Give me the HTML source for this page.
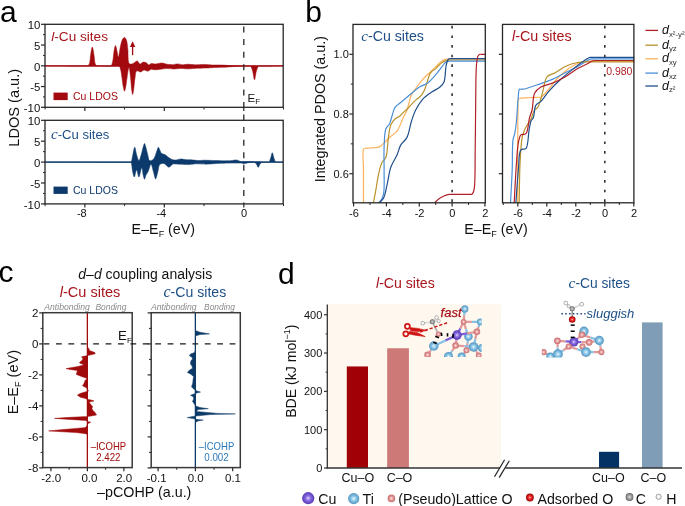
<!DOCTYPE html><html><head><meta charset="utf-8"><style>html,body{margin:0;padding:0;background:#fff;width:685px;height:506px;overflow:hidden}svg{display:block;will-change:transform}text{font-family:"Liberation Sans",sans-serif}</style></head><body>
<svg width="685" height="506" viewBox="0 0 685 506">
<defs><radialGradient id="gTi" cx="50%" cy="50%" r="50%"><stop offset="0" stop-color="#f4fbff"/><stop offset="0.22" stop-color="#b6def2"/><stop offset="0.55" stop-color="#7dbde2"/><stop offset="1" stop-color="#5894bd"/></radialGradient><radialGradient id="gO" cx="50%" cy="50%" r="50%"><stop offset="0" stop-color="#fff4f4"/><stop offset="0.22" stop-color="#f2c0c0"/><stop offset="0.55" stop-color="#e29090"/><stop offset="1" stop-color="#c47070"/></radialGradient><radialGradient id="gCu" cx="50%" cy="50%" r="50%"><stop offset="0" stop-color="#f6f2ff"/><stop offset="0.22" stop-color="#a892ec"/><stop offset="0.55" stop-color="#7a5cd6"/><stop offset="1" stop-color="#5a3eb4"/></radialGradient><radialGradient id="gR" cx="50%" cy="50%" r="50%"><stop offset="0" stop-color="#ffd0d0"/><stop offset="0.3" stop-color="#f04040"/><stop offset="0.7" stop-color="#d01010"/><stop offset="1" stop-color="#900808"/></radialGradient><radialGradient id="gC" cx="50%" cy="50%" r="50%"><stop offset="0" stop-color="#e8e8e8"/><stop offset="0.35" stop-color="#b0b0b0"/><stop offset="0.75" stop-color="#8a8a8a"/><stop offset="1" stop-color="#5a5a5a"/></radialGradient><radialGradient id="gH" cx="50%" cy="50%" r="50%"><stop offset="0" stop-color="#ffffff"/><stop offset="0.6" stop-color="#f2f2f2"/><stop offset="1" stop-color="#b0b0b0"/></radialGradient><clipPath id="clipS1"><rect x="400" y="300" width="81.7" height="57"/></clipPath><clipPath id="clipS2"><rect x="541.8" y="298" width="63" height="59.6"/></clipPath><clipPath id="clipB1"><rect x="353" y="24.4" width="132.3" height="178.4"/></clipPath><clipPath id="clipB2"><rect x="502.5" y="24.4" width="131.8" height="178.4"/></clipPath></defs>
<text x="0" y="21.8" font-size="30" fill="#000" text-anchor="start"  >a</text>
<text x="305.3" y="21.8" font-size="30" fill="#000" text-anchor="start"  >b</text>
<text x="-1.5" y="282.2" font-size="30" fill="#000" text-anchor="start"  >c</text>
<text x="278" y="284.4" font-size="30" fill="#000" text-anchor="start"  >d</text>
<path d="M45,65.9 C45,65.9 45.42,65.9 46,65.9 C49.68,65.9 83.12,65.9 86.8,65.9 C87.38,65.9 87.47,66.06 87.8,65.9 C88.31,65.65 88.9,64.93 89.3,64 C90.03,62.31 90.12,58.53 90.5,56 C90.85,53.72 91.11,51.13 91.5,49.5 C91.74,48.49 92.03,47.1 92.3,47.1 C92.57,47.1 92.86,48.49 93.1,49.5 C93.49,51.13 93.75,53.72 94.1,56 C94.48,58.53 94.57,62.31 95.3,64 C95.7,64.93 96.29,65.65 96.8,65.9 C97.13,66.06 97.28,65.9 97.8,65.9 C99.61,65.9 108.19,65.9 110,65.9 C110.52,65.9 110.69,66.11 111,65.9 C111.63,65.47 112.15,63.69 112.6,62 C113.37,59.13 113.56,53 114.2,50 C114.59,48.15 115.06,45.6 115.5,45.6 C115.96,45.6 116.45,48.75 116.9,50.5 C117.42,52.49 117.89,56.91 118.4,56.9 C119.05,56.89 119.64,49.63 120.4,46.5 C121.04,43.86 121.55,40.86 122.5,39.3 C123.08,38.36 123.87,37.34 124.5,37.4 C125.18,37.46 125.9,38.79 126.4,40 C127.24,42.03 127.38,45.64 127.8,49 C128.34,53.25 127.61,61.77 129.2,63.5 C129.89,64.25 131.03,64.15 131.9,64 C132.8,63.84 133.62,63.01 134.5,62.5 C135.42,61.97 136.44,60.75 137.3,60.9 C138.26,61.07 138.91,63.83 139.9,64 C140.83,64.16 141.94,62.41 143,62.2 C143.98,62.01 145.08,62.19 146,62.6 C146.99,63.04 147.77,64.8 148.7,64.9 C149.54,64.99 150.62,63.63 151.3,63.5 C151.69,63.42 151.89,63.57 152.29,63.61 C152.92,63.68 154.08,63.82 154.71,63.89 C155.11,63.93 155.23,64.01 155.7,64 C156.87,63.97 159.86,62.92 161.8,63 C163.61,63.07 165.94,64.13 167,64.3 C167.46,64.37 167.57,64.34 168,64.38 C168.78,64.43 170.52,64.57 171.3,64.62 C171.73,64.66 171.84,64.72 172.3,64.7 C173.37,64.66 175.84,63.88 177.6,63.9 C179.34,63.92 181.74,64.77 182.8,64.8 C183.26,64.81 183.37,64.74 183.79,64.69 C184.58,64.6 186.32,64.4 187.11,64.31 C187.53,64.26 187.77,64.2 188.1,64.2 C188.43,64.2 188.64,64.25 189.1,64.29 C190.13,64.37 193.07,64.63 194.1,64.71 C194.56,64.75 194.77,64.79 195.1,64.8 C195.43,64.81 195.62,64.78 196.1,64.75 C197.34,64.7 201.56,64.5 202.8,64.45 C203.28,64.42 203.47,64.4 203.8,64.4 C204.13,64.4 204.32,64.44 204.8,64.47 C206.05,64.55 210.35,64.85 211.6,64.93 C212.08,64.96 212.27,64.99 212.6,65 C212.93,65.01 213.12,65 213.6,65 C214.86,65 219.14,65 220.4,65 C220.88,65 221.07,64.99 221.4,65 C221.73,65.01 221.92,65.04 222.4,65.07 C223.64,65.15 227.86,65.45 229.1,65.53 C229.58,65.56 229.77,65.59 230.1,65.6 C230.43,65.61 230.58,65.61 231.1,65.62 C232.97,65.66 242.13,65.84 244,65.88 C244.52,65.89 244.67,65.9 245,65.9 C245.33,65.9 245.43,65.9 246,65.9 C249.43,65.9 278.57,65.9 282,65.9 C282.57,65.9 283,65.9 283,65.9 L283,65.9 C283,65.9 282.55,65.91 282,65.91 C279.38,65.94 262.02,66.16 259.4,66.19 C258.85,66.19 258.72,65.98 258.4,66.2 C257.67,66.69 256.99,69.13 256.4,71 C255.63,73.46 255.13,79.8 254.5,79.8 C253.87,79.8 253.37,73.46 252.6,71 C252.01,69.13 251.33,66.68 250.6,66.2 C250.28,65.99 250.04,66.21 249.6,66.22 C248.77,66.23 246.83,66.27 246,66.28 C245.56,66.29 245.33,66.29 245,66.3 C244.67,66.31 244.5,66.31 244,66.33 C242.46,66.37 236.14,66.53 234.6,66.57 C234.1,66.59 233.93,66.58 233.6,66.6 C233.27,66.62 233.08,66.64 232.6,66.67 C231.36,66.75 227.14,67.05 225.9,67.13 C225.42,67.16 225.23,67.18 224.9,67.2 C224.57,67.22 224.38,67.22 223.9,67.23 C222.64,67.28 218.36,67.42 217.1,67.47 C216.62,67.48 216.43,67.48 216.1,67.5 C215.77,67.52 215.58,67.53 215.1,67.56 C213.85,67.63 209.55,67.87 208.3,67.94 C207.82,67.97 207.63,67.99 207.3,68 C206.97,68.01 206.78,68.01 206.3,68.02 C205.06,68.05 200.84,68.15 199.6,68.18 C199.12,68.19 198.93,68.19 198.6,68.2 C198.27,68.21 198.1,68.23 197.6,68.27 C196.14,68.36 190.46,68.74 189,68.83 C188.5,68.87 188.33,68.9 188,68.9 C187.67,68.9 187.46,68.86 187,68.83 C185.97,68.76 183.03,68.54 182,68.47 C181.54,68.44 181.33,68.4 181,68.4 C180.67,68.4 180.46,68.45 180,68.49 C178.97,68.57 176.03,68.83 175,68.91 C174.54,68.95 174.33,69 174,69 C173.67,69 173.46,68.96 173,68.93 C171.97,68.86 169.03,68.64 168,68.57 C167.54,68.54 167.33,68.49 167,68.5 C166.67,68.51 166.46,68.56 166.01,68.61 C164.98,68.73 162.02,69.07 160.99,69.19 C160.54,69.24 160.33,69.26 160,69.3 C159.67,69.34 159.41,69.37 159.01,69.42 C158.4,69.49 157.3,69.61 156.69,69.68 C156.29,69.73 156.03,69.8 155.7,69.8 C155.37,69.8 155.11,69.73 154.71,69.69 C154.08,69.62 152.92,69.48 152.29,69.41 C151.89,69.37 151.72,69.22 151.3,69.3 C150.47,69.46 148.99,71.08 147.8,71.2 C146.66,71.31 145.45,70 144.3,70.1 C143.11,70.2 142.05,71.73 140.8,71.9 C139.49,72.07 137.57,70.38 136.6,71 C135.35,71.8 135.46,75.34 135,78 C134.41,81.45 134.11,86.97 133.6,90 C133.28,91.87 132.92,94.5 132.6,94.5 C132.28,94.5 131.97,91.87 131.7,90 C131.26,86.97 131.07,81.85 130.6,78 C130.16,74.4 129.54,67.65 129,67.6 C128.74,67.58 128.45,68.95 128.2,70 C127.75,71.87 127.4,75.25 127,78 C126.57,80.91 126.22,84.58 125.7,87 C125.34,88.68 124.9,91.2 124.5,91.2 C124.1,91.2 123.66,88.68 123.3,87 C122.78,84.58 122.45,80.91 122,78 C121.58,75.25 121.27,72.14 120.7,70 C120.3,68.51 119.9,66.72 119.3,66.3 C119,66.09 118.9,66.3 118.3,66.29 C113.23,66.27 51.07,65.93 46,65.91 C45.4,65.9 45,65.9 45,65.9Z" fill="#a20a0f" stroke="#a20a0f" stroke-width="0.5"/>
<line x1="45" y1="65.9" x2="283.2" y2="65.9" stroke="#a20a0f" stroke-width="1.4" />
<line x1="132.6" y1="55.2" x2="132.6" y2="45" stroke="#a20a0f" stroke-width="1.3" />
<path d="M132.6,41.2 L129.9,47 L135.3,47 Z" fill="#a20a0f"/>
<path d="M45,162.1 C45,162.1 45.4,162.1 46,162.1 C51.51,162.1 124.49,162.1 130,162.1 C130.6,162.1 130.7,162.34 131,162.1 C131.82,161.46 132.2,157.42 132.8,155 C133.43,152.46 134.05,147.2 134.7,147.2 C135.35,147.2 135.94,152.64 136.7,155 C137.36,157.04 138.15,160.6 138.9,160.6 C139.71,160.6 140.69,156.25 141.4,154 C142.12,151.72 142.6,148.92 143.2,147 C143.63,145.62 144.07,143.5 144.5,143.5 C144.93,143.5 145.36,145.58 145.8,147 C146.45,149.11 147.11,152.58 147.8,155 C148.38,157.04 148.49,160.09 149.6,160.6 C150.56,161.04 152.52,159.98 153.6,158.9 C155.01,157.48 155.64,154.08 156.5,152 C157.21,150.29 157.77,147.33 158.4,147.3 C158.93,147.28 159.45,149.45 160,150.5 C160.55,151.55 160.87,152.92 161.7,153.6 C162.51,154.27 163.91,154.08 164.9,154.6 C165.92,155.14 166.69,156.06 167.7,156.8 C168.83,157.63 170.12,158.75 171.4,159.3 C172.56,159.8 173.66,160.09 175,160.1 C176.7,160.11 179.67,158.93 180.8,158.9 C181.26,158.89 181.36,158.99 181.79,159.05 C182.55,159.17 184.25,159.43 185.01,159.55 C185.44,159.61 185.67,159.67 186,159.7 C186.33,159.73 186.55,159.72 187,159.73 C187.97,159.76 190.63,159.84 191.6,159.87 C192.05,159.88 192.27,159.87 192.6,159.9 C192.93,159.93 193.16,159.97 193.59,160.03 C194.39,160.13 196.21,160.37 197.01,160.47 C197.44,160.53 197.67,160.59 198,160.6 C198.33,160.61 198.55,160.57 199,160.54 C199.94,160.48 202.46,160.32 203.4,160.26 C203.85,160.23 204.07,160.2 204.4,160.2 C204.73,160.2 204.91,160.22 205.4,160.23 C206.7,160.28 211.3,160.42 212.6,160.47 C213.09,160.48 213.27,160.49 213.6,160.5 C213.93,160.51 214.1,160.51 214.6,160.53 C216.05,160.57 221.65,160.73 223.1,160.77 C223.6,160.79 223.77,160.8 224.1,160.8 C224.43,160.8 224.63,160.79 225.1,160.77 C226.25,160.75 229.85,160.65 231,160.63 C231.47,160.61 231.56,160.64 232,160.6 C232.89,160.51 234.59,159.8 236,159.9 C237.63,160.02 240.13,161.43 241.2,161.6 C241.66,161.67 241.68,161.6 242.2,161.61 C243.97,161.62 252.23,161.68 254,161.69 C254.52,161.7 254.67,161.69 255,161.7 C255.33,161.71 255.48,161.71 256,161.73 C257.79,161.78 266.21,162.02 268,162.07 C268.52,162.09 268.69,162.31 269,162.1 C269.7,161.64 270.25,159.06 270.8,157.5 C271.35,155.93 271.8,152.7 272.3,152.7 C272.8,152.7 273.25,155.93 273.8,157.5 C274.35,159.06 274.9,161.62 275.6,162.1 C275.91,162.31 276.13,162.1 276.6,162.1 C277.68,162.1 280.92,162.1 282,162.1 C282.47,162.1 283,162.1 283,162.1 L283,162.1 C283,162.1 282.54,162.1 282,162.11 C279.64,162.13 265.36,162.27 263,162.29 C262.46,162.3 262.36,162.16 262,162.3 C261.41,162.52 260.59,163.27 260,164 C259.29,164.89 258.8,167.4 258.2,167.4 C257.6,167.4 257.1,164.89 256.4,164 C255.83,163.27 255.07,162.51 254.5,162.3 C254.14,162.17 253.93,162.32 253.5,162.34 C252.7,162.37 250.9,162.43 250.1,162.46 C249.67,162.48 249.56,162.44 249.1,162.5 C248.03,162.64 245.26,163.7 243.8,163.7 C242.78,163.7 241.87,163.18 241.2,163.1 C240.79,163.05 240.7,163.1 240.2,163.1 C238.75,163.1 233.15,163.1 231.7,163.1 C231.2,163.1 231.03,163.1 230.7,163.1 C230.37,163.1 230.21,163.11 229.7,163.12 C227.99,163.16 220.31,163.34 218.6,163.38 C218.09,163.39 217.93,163.38 217.6,163.4 C217.27,163.42 217.1,163.44 216.6,163.48 C215.15,163.59 209.45,164.01 208,164.12 C207.5,164.16 207.33,164.19 207,164.2 C206.67,164.21 206.51,164.18 206,164.17 C204.42,164.11 197.78,163.89 196.2,163.83 C195.69,163.82 195.53,163.79 195.2,163.8 C194.87,163.81 194.67,163.86 194.21,163.91 C193.15,164.03 190.05,164.37 188.99,164.49 C188.53,164.54 188.33,164.59 188,164.6 C187.67,164.61 187.46,164.57 187,164.54 C185.94,164.49 182.86,164.31 181.8,164.26 C181.34,164.23 181.13,164.22 180.8,164.2 C180.47,164.18 180.27,164.18 179.8,164.16 C178.65,164.12 175.05,163.98 173.9,163.94 C173.43,163.92 173.31,163.76 172.9,163.9 C171.95,164.21 170.23,167.18 168.8,167.2 C167.27,167.23 165.63,163.94 164,163.6 C162.62,163.31 160.81,163.62 159.8,164.6 C158.45,165.91 158.51,169.58 157.8,172 C157.11,174.35 156.32,178.9 155.6,178.9 C154.88,178.9 154.24,174.37 153.5,172 C152.71,169.48 151.9,164.23 151,164.2 C150.13,164.17 149.17,169.45 148.2,171.4 C147.49,172.84 146.61,173.71 146,175 C145.37,176.34 144.97,179.31 144.5,179.3 C144.04,179.29 143.61,176.63 143.2,175 C142.67,172.9 142.35,167.73 141.7,167.7 C140.96,167.67 139.8,176.99 138.9,177 C138.11,177.01 137.37,170 136.6,170 C135.83,170 134.99,177 134.3,177 C133.71,177 133.18,173.96 132.7,172 C132.04,169.32 131.93,163.08 131,162.3 C130.7,162.05 130.6,162.3 130,162.3 C124.49,162.28 51.51,162.12 46,162.1 C45.4,162.1 45,162.1 45,162.1Z" fill="#0d3a6c" stroke="#0d3a6c" stroke-width="0.5"/>
<line x1="45" y1="162.1" x2="283.2" y2="162.1" stroke="#0d3a6c" stroke-width="1.4" />
<rect x="45" y="24.3" width="238.2" height="83" fill="none" stroke="#262626" stroke-width="1.3"/>
<line x1="41" y1="107.3" x2="45" y2="107.3" stroke="#262626" stroke-width="1.2" />
<text x="40.3" y="112" font-size="11.4" fill="#111" text-anchor="end"  >-10</text>
<line x1="41" y1="86.55" x2="45" y2="86.55" stroke="#262626" stroke-width="1.2" />
<text x="40.3" y="91.25" font-size="11.4" fill="#111" text-anchor="end"  >-5</text>
<line x1="41" y1="65.8" x2="45" y2="65.8" stroke="#262626" stroke-width="1.2" />
<text x="40.3" y="70.5" font-size="11.4" fill="#111" text-anchor="end"  >0</text>
<line x1="41" y1="45.05" x2="45" y2="45.05" stroke="#262626" stroke-width="1.2" />
<text x="40.3" y="49.75" font-size="11.4" fill="#111" text-anchor="end"  >5</text>
<line x1="41" y1="24.3" x2="45" y2="24.3" stroke="#262626" stroke-width="1.2" />
<text x="40.3" y="29" font-size="11.4" fill="#111" text-anchor="end"  >10</text>
<line x1="43" y1="96.92" x2="45" y2="96.92" stroke="#262626" stroke-width="1.0" />
<line x1="43" y1="76.17" x2="45" y2="76.17" stroke="#262626" stroke-width="1.0" />
<line x1="43" y1="55.42" x2="45" y2="55.42" stroke="#262626" stroke-width="1.0" />
<line x1="43" y1="34.67" x2="45" y2="34.67" stroke="#262626" stroke-width="1.0" />
<line x1="84.84" y1="107.3" x2="84.84" y2="110.9" stroke="#262626" stroke-width="1.2" />
<line x1="164.32" y1="107.3" x2="164.32" y2="110.9" stroke="#262626" stroke-width="1.2" />
<line x1="243.8" y1="107.3" x2="243.8" y2="110.9" stroke="#262626" stroke-width="1.2" />
<line x1="45.1" y1="107.3" x2="45.1" y2="109.5" stroke="#262626" stroke-width="1.0" />
<line x1="124.58" y1="107.3" x2="124.58" y2="109.5" stroke="#262626" stroke-width="1.0" />
<line x1="204.06" y1="107.3" x2="204.06" y2="109.5" stroke="#262626" stroke-width="1.0" />
<line x1="283.54" y1="107.3" x2="283.54" y2="109.5" stroke="#262626" stroke-width="1.0" />
<rect x="45" y="120.3" width="238.2" height="83.6" fill="none" stroke="#262626" stroke-width="1.3"/>
<line x1="41" y1="203.9" x2="45" y2="203.9" stroke="#262626" stroke-width="1.2" />
<text x="40.3" y="208.6" font-size="11.4" fill="#111" text-anchor="end"  >-10</text>
<line x1="41" y1="183" x2="45" y2="183" stroke="#262626" stroke-width="1.2" />
<text x="40.3" y="187.7" font-size="11.4" fill="#111" text-anchor="end"  >-5</text>
<line x1="41" y1="162.1" x2="45" y2="162.1" stroke="#262626" stroke-width="1.2" />
<text x="40.3" y="166.8" font-size="11.4" fill="#111" text-anchor="end"  >0</text>
<line x1="41" y1="141.2" x2="45" y2="141.2" stroke="#262626" stroke-width="1.2" />
<text x="40.3" y="145.9" font-size="11.4" fill="#111" text-anchor="end"  >5</text>
<line x1="41" y1="120.3" x2="45" y2="120.3" stroke="#262626" stroke-width="1.2" />
<text x="40.3" y="125" font-size="11.4" fill="#111" text-anchor="end"  >10</text>
<line x1="43" y1="193.45" x2="45" y2="193.45" stroke="#262626" stroke-width="1.0" />
<line x1="43" y1="172.55" x2="45" y2="172.55" stroke="#262626" stroke-width="1.0" />
<line x1="43" y1="151.65" x2="45" y2="151.65" stroke="#262626" stroke-width="1.0" />
<line x1="43" y1="130.75" x2="45" y2="130.75" stroke="#262626" stroke-width="1.0" />
<line x1="84.84" y1="203.9" x2="84.84" y2="207.5" stroke="#262626" stroke-width="1.2" />
<line x1="164.32" y1="203.9" x2="164.32" y2="207.5" stroke="#262626" stroke-width="1.2" />
<line x1="243.8" y1="203.9" x2="243.8" y2="207.5" stroke="#262626" stroke-width="1.2" />
<line x1="45.1" y1="203.9" x2="45.1" y2="206.1" stroke="#262626" stroke-width="1.0" />
<line x1="124.58" y1="203.9" x2="124.58" y2="206.1" stroke="#262626" stroke-width="1.0" />
<line x1="204.06" y1="203.9" x2="204.06" y2="206.1" stroke="#262626" stroke-width="1.0" />
<line x1="283.54" y1="203.9" x2="283.54" y2="206.1" stroke="#262626" stroke-width="1.0" />
<text x="81.84" y="217.4" font-size="11" fill="#111" text-anchor="middle"  >-8</text>
<text x="161.32" y="217.4" font-size="11" fill="#111" text-anchor="middle"  >-4</text>
<text x="244.1" y="217.4" font-size="11" fill="#111" text-anchor="middle"  >0</text>
<text x="131.6" y="233.6" font-size="14.3" fill="#111">E–E<tspan font-size="9" dy="3">F</tspan><tspan dy="-3"> (eV)</tspan></text>
<text transform="translate(18.8,107.8) rotate(-90)" x="0" y="0" font-size="14.6" fill="#111" text-anchor="middle">LDOS (a.u.)</text>
<line x1="243.8" y1="24.3" x2="243.8" y2="203.9" stroke="#262626" stroke-width="1.3" stroke-dasharray="6,6.57" stroke-dashoffset="10.33"/>
<text x="247.5" y="101.8" font-size="11.5" fill="#111">E<tspan font-size="8" dy="2">F</tspan></text>
<text x="51.3" y="41.2" font-size="13.6" fill="#a8141b"><tspan font-style="italic">l</tspan>-Cu sites</text>
<text x="51" y="139.4" font-size="13.1" fill="#1d4f86"><tspan style="font-family:'Liberation Serif'" font-style="italic" font-size="15">c</tspan>-Cu sites</text>
<rect x="53.5" y="92.6" width="14.2" height="7.5" fill="#a20a0f"/>
<text x="73" y="100.3" font-size="10.5" fill="#a20a0f" text-anchor="start"  >Cu LDOS</text>
<rect x="53.5" y="186.6" width="14.2" height="7.3" fill="#0d3a6c"/>
<text x="73" y="194.2" font-size="10.5" fill="#0d3a6c" text-anchor="start"  >Cu LDOS</text>
<g clip-path="url(#clipB1)">
<path d="M363.5,203 C363.5,203 363.45,179.76 363.5,170 C363.54,162.21 362,151.36 363.7,149 C364.28,148.2 365.38,148.33 366,148.2 C366.39,148.12 366.55,148.16 367,148.13 C367.89,148.07 370.11,147.93 371,147.87 C371.45,147.84 371.51,147.85 372,147.8 C373.35,147.68 377.46,147.87 379.6,146.9 C381.61,145.99 382.92,143.99 384.6,142.4 C386.39,140.7 388.04,138.79 390,137 C392.14,135.05 394.97,133.84 397,131.2 C399.61,127.8 401.45,121.37 403.3,117.5 C404.67,114.62 405.84,112.98 407,110 C408.57,105.95 409.49,99.15 411.3,95.2 C412.65,92.25 414.32,90.36 416,88 C417.72,85.59 419.72,83.01 421.5,80.9 C423.04,79.08 424.38,77.63 426,76 C427.76,74.23 429.85,72.47 431.7,70.7 C433.51,68.97 435.25,67.17 437,65.5 C438.68,63.91 440.33,61.98 442,60.9 C443.33,60.04 444.64,59.51 446,59.2 C447.31,58.9 449.11,59.02 450,59 C450.44,58.99 450.43,59 451,59 C454.32,59 481.68,59 485,59 C485.57,59 486,59 486,59" fill="none" stroke="#fdb25a" stroke-width="1.2" stroke-linejoin="round" />
<path d="M373.4,203 C373.4,203 375.13,194.09 375.9,189.7 C376.66,185.42 377.3,180.63 378,177 C378.53,174.25 378.93,172.21 379.6,169.8 C380.29,167.31 380.96,164.47 382.1,162.3 C383.12,160.37 384.92,159.7 385.9,157.3 C387.65,153.01 387.47,143.24 388.4,137.4 C389.14,132.77 389.41,128.28 390.8,125 C391.86,122.5 393.39,120.51 395,119 C396.38,117.71 398.23,117.29 399.6,116.2 C400.92,115.15 401.79,113.85 403.1,112.6 C404.64,111.13 406.62,109.67 408.3,108 C410.06,106.25 411.81,103.91 413.4,102.3 C414.67,101.01 415.72,100.13 417,99 C418.4,97.76 420.25,96.69 421.5,95.2 C422.76,93.7 423.66,91.84 424.5,90 C425.37,88.11 425.78,86.31 426.6,84 C427.73,80.82 428.79,75.37 430.7,72.7 C432.11,70.73 434.06,70.15 435.8,68.6 C437.81,66.81 439.78,63.92 442,62.5 C443.92,61.27 446.27,60.58 448.1,60.2 C449.52,59.9 451.13,60.02 452,60 C452.44,59.99 452.43,60 453,60 C456.2,60 481.8,60 485,60 C485.57,60 486,60 486,60" fill="none" stroke="#b8912a" stroke-width="1.2" stroke-linejoin="round" />
<path d="M379.6,203 C379.6,203 382.56,198.31 383.4,194.7 C384.78,188.76 383.99,178.05 384.1,170 C384.21,162.3 383.76,154.57 384.1,147.4 C384.41,140.86 384.32,132.82 385.9,128.7 C386.81,126.33 388.61,125.64 389.6,123.7 C390.72,121.49 391.13,118.63 392,116 C392.92,113.2 393.4,109.73 395,107.4 C396.48,105.23 398.84,104.14 401,102.3 C403.54,100.13 406.37,97.63 409.3,95.2 C412.51,92.54 416.17,89.13 419.5,87 C422.28,85.21 425.12,84.77 427.7,82.9 C430.59,80.8 433.36,77.5 435.8,74.7 C438.1,72.06 440.13,68.9 442,66.6 C443.45,64.83 444.5,62.87 446,62 C447.22,61.29 449.11,61.29 450,61.2 C450.44,61.16 450.43,61.2 451,61.2 C454.32,61.2 481.68,61.2 485,61.2 C485.57,61.2 486,61.2 486,61.2" fill="none" stroke="#4a8fd6" stroke-width="1.2" stroke-linejoin="round" />
<path d="M378.4,203 C378.4,203 382.07,200.6 383.4,198.4 C385.33,195.22 385.93,189.56 387.1,184.7 C388.41,179.26 388.97,172.52 390.8,167.3 C392.43,162.67 395.36,158.77 397.1,154.8 C398.61,151.35 399.1,147.85 400.8,144.9 C402.43,142.07 405.35,140.57 407,137.4 C409.13,133.29 409.78,126.46 411.3,121.7 C412.6,117.62 413.59,114.14 415.4,110.5 C417.31,106.66 419.76,102.43 422.6,99.3 C425.25,96.38 428.67,94.22 431.7,92.1 C434.47,90.16 437.86,88.91 440,87 C441.75,85.44 443.02,84.23 444,81.9 C445.51,78.3 445.13,70.71 446,66.6 C446.6,63.76 447.06,60.69 448.1,59.5 C448.67,58.85 449.54,58.72 450.1,58.6 C450.48,58.52 450.53,58.6 451.1,58.6 C454.41,58.6 481.69,58.6 485,58.6 C485.57,58.6 486,58.6 486,58.6" fill="none" stroke="#21508c" stroke-width="1.2" stroke-linejoin="round" />
<path d="M434.4,203 C434.4,203 437.69,199.6 439.4,198.4 C440.9,197.35 442.37,196.66 444,196 C445.7,195.31 448.31,194.56 449.4,194.4 C449.86,194.33 449.9,194.4 450.4,194.39 C451.86,194.38 457.54,194.32 459,194.31 C459.5,194.3 459.67,194.3 460,194.3 C460.33,194.3 460.49,194.3 461,194.3 C462.6,194.3 469.4,194.3 471,194.3 C471.51,194.3 471.68,194.51 472,194.3 C472.71,193.85 473.47,192.24 474,190 C475.54,183.49 474.92,164.08 475.2,150 C475.51,134.26 475.45,115.18 475.7,100 C475.91,87.3 475.76,72.83 476.5,65 C476.88,61 477.02,57.73 478,56 C478.53,55.07 479.41,54.52 480,54.3 C480.36,54.17 480.56,54.3 481,54.3 C481.89,54.3 484.11,54.3 485,54.3 C485.44,54.3 486,54.3 486,54.3" fill="none" stroke="#b1212a" stroke-width="1.2" stroke-linejoin="round" />
</g>
<g clip-path="url(#clipB2)">
<path d="M517.7,203 C517.7,203 517.61,157.15 517.7,140 C517.76,128.17 517.82,117.48 518,110 C518.11,105.53 517.37,100.97 518.4,99.3 C518.88,98.53 519.83,98.36 520.4,98.2 C520.78,98.09 520.91,98.17 521.4,98.15 C522.75,98.08 527.65,97.82 529,97.75 C529.49,97.73 529.67,97.72 530,97.7 C530.33,97.68 530.5,97.68 531,97.65 C532.49,97.59 538.41,97.31 539.9,97.25 C540.4,97.22 540.46,97.39 540.9,97.2 C542.39,96.54 546.59,91.8 549,89 C551.25,86.39 552.88,83.44 555,81 C557,78.7 559.13,76.71 561.3,74.7 C563.46,72.71 565.62,70.7 568,69 C570.39,67.3 573.13,65.71 575.6,64.5 C577.78,63.44 580.78,62.32 582,62 C582.46,61.88 582.55,61.93 582.99,61.87 C583.86,61.75 586.04,61.45 586.91,61.33 C587.35,61.27 587.57,61.23 587.9,61.2 C588.23,61.17 588.51,61.19 588.9,61.18 C589.47,61.16 590.43,61.14 591,61.12 C591.39,61.11 591.67,61.1 592,61.1 C592.33,61.1 592.42,61.1 593,61.1 C596.69,61.1 630.31,61.1 634,61.1 C634.58,61.1 635,61.1 635,61.1" fill="none" stroke="#fdb25a" stroke-width="1.2" stroke-linejoin="round" />
<path d="M510.5,203 C510.5,203 511.78,180.58 512.2,169.8 C512.6,159.58 512.08,146.1 513,139.9 C513.43,137.02 514.2,136.12 514.7,133.7 C515.39,130.37 515.91,126.3 516.4,121.7 C517.06,115.54 517.39,105.96 518,100 C518.43,95.8 518.45,90.18 519.4,89.3 C519.69,89.03 519.97,89.27 520.4,89.24 C521.15,89.2 522.75,89.1 523.5,89.06 C523.93,89.03 523.99,89.1 524.5,89 C526.33,88.65 532.56,86.45 536.8,85 C541.4,83.43 546.39,81.91 551.1,79.9 C555.93,77.83 560.81,74.99 565.4,72.7 C569.65,70.58 574.07,68.63 577.7,66.6 C580.73,64.9 583.54,62.84 585.8,61.5 C587.38,60.56 588.73,59.63 589.9,59.2 C590.69,58.91 591.43,58.85 592,58.8 C592.39,58.76 592.42,58.8 593,58.8 C596.69,58.8 630.31,58.8 634,58.8 C634.58,58.8 635,58.8 635,58.8" fill="none" stroke="#4a8fd6" stroke-width="1.2" stroke-linejoin="round" />
<path d="M519.2,203 C519.2,203 519.52,171.85 520.2,159.8 C520.69,151.11 521.13,142.81 522.2,137.4 C522.83,134.22 523.58,132.19 524.5,130 C525.29,128.13 526.2,126.67 527.2,125 C528.26,123.24 529.6,121.8 530.7,119.7 C532.11,117.01 533.06,112.09 534.6,110 C535.57,108.68 536.91,108.65 537.8,107.4 C539.03,105.67 539.68,102.6 540.5,100 C541.39,97.19 541.98,94.41 542.9,91.1 C544.07,86.89 544.45,79.87 547,76.8 C549,74.39 552.23,74.32 555.2,72.7 C558.9,70.69 563.4,67.23 567.4,65.5 C570.88,63.99 576.06,62.8 577.7,62.5 C578.2,62.41 578.22,62.46 578.7,62.43 C579.87,62.34 583.63,62.06 584.8,61.97 C585.28,61.94 585.47,61.91 585.8,61.9 C586.13,61.89 586.4,61.9 586.8,61.9 C587.39,61.9 588.41,61.9 589,61.9 C589.4,61.9 589.67,61.9 590,61.9 C590.33,61.9 590.42,61.9 591,61.9 C594.79,61.9 630.21,61.9 634,61.9 C634.58,61.9 635,61.9 635,61.9" fill="none" stroke="#b8912a" stroke-width="1.2" stroke-linejoin="round" />
<path d="M515.9,203 C515.9,203 517.43,179.46 518.4,169.8 C519.15,162.28 518.43,152.56 520.9,149.8 C522.15,148.4 524.61,149.97 525.9,148.6 C528.37,145.96 528.12,134.98 529.1,129.9 C529.78,126.38 530.05,123.22 531,121 C531.65,119.48 532.72,119.11 533.4,117.5 C534.56,114.76 534.11,108.19 535.8,105.4 C537.03,103.37 539.11,103.1 540.9,101.3 C543.42,98.76 545.91,94.57 549,91.1 C552.57,87.09 557.11,82.62 561.3,78.8 C565.32,75.14 569.32,71.91 573.6,68.6 C578.04,65.17 584.69,60.27 587.5,58.6 C588.63,57.93 589.34,57.55 590,57.4 C590.4,57.31 590.42,57.4 591,57.4 C594.79,57.4 630.21,57.4 634,57.4 C634.58,57.4 635,57.4 635,57.4" fill="none" stroke="#21508c" stroke-width="1.2" stroke-linejoin="round" />
<path d="M514.2,203 C514.2,203 515.83,170.97 516.7,159.8 C517.25,152.7 517.43,146.95 518.4,142.4 C519.05,139.34 519.38,136.29 520.9,134.9 C522.12,133.78 524.58,135.03 525.9,133.7 C528.27,131.31 528.38,121.85 529.6,117.5 C530.44,114.5 531.37,113.04 532.1,110 C533.18,105.53 532.65,97.11 534.7,93.1 C536.16,90.24 538.26,88.62 540.9,87 C544.11,85.03 549.08,84.56 553.1,82.9 C557.25,81.18 561.37,79.13 565.4,76.8 C569.58,74.38 573.72,70.91 577.7,68.6 C581.19,66.57 585.28,64.95 587.9,63.5 C589.6,62.56 590.76,61.48 592,61 C592.9,60.65 593.85,60.56 594.5,60.5 C594.91,60.46 594.93,60.5 595.5,60.5 C599.06,60.5 630.44,60.5 634,60.5 C634.57,60.5 635,60.5 635,60.5" fill="none" stroke="#b1212a" stroke-width="1.2" stroke-linejoin="round" />
</g>
<rect x="353" y="24.4" width="132.3" height="178.4" fill="none" stroke="#262626" stroke-width="1.3"/>
<line x1="349.4" y1="54.3" x2="353" y2="54.3" stroke="#262626" stroke-width="1.2" />
<line x1="349.4" y1="114" x2="353" y2="114" stroke="#262626" stroke-width="1.2" />
<line x1="349.4" y1="173.7" x2="353" y2="173.7" stroke="#262626" stroke-width="1.2" />
<line x1="350.8" y1="84.15" x2="353" y2="84.15" stroke="#262626" stroke-width="1.0" />
<line x1="350.8" y1="143.85" x2="353" y2="143.85" stroke="#262626" stroke-width="1.0" />
<line x1="353.58" y1="202.8" x2="353.58" y2="206.4" stroke="#262626" stroke-width="1.2" />
<text x="353.88" y="216.6" font-size="11" fill="#111" text-anchor="middle"  >-6</text>
<line x1="370" y1="202.8" x2="370" y2="205" stroke="#262626" stroke-width="1.0" />
<line x1="386.42" y1="202.8" x2="386.42" y2="206.4" stroke="#262626" stroke-width="1.2" />
<text x="386.72" y="216.6" font-size="11" fill="#111" text-anchor="middle"  >-4</text>
<line x1="402.84" y1="202.8" x2="402.84" y2="205" stroke="#262626" stroke-width="1.0" />
<line x1="419.26" y1="202.8" x2="419.26" y2="206.4" stroke="#262626" stroke-width="1.2" />
<text x="419.56" y="216.6" font-size="11" fill="#111" text-anchor="middle"  >-2</text>
<line x1="435.68" y1="202.8" x2="435.68" y2="205" stroke="#262626" stroke-width="1.0" />
<line x1="452.1" y1="202.8" x2="452.1" y2="206.4" stroke="#262626" stroke-width="1.2" />
<text x="452.4" y="216.6" font-size="11" fill="#111" text-anchor="middle"  >0</text>
<line x1="468.52" y1="202.8" x2="468.52" y2="205" stroke="#262626" stroke-width="1.0" />
<line x1="484.94" y1="202.8" x2="484.94" y2="206.4" stroke="#262626" stroke-width="1.2" />
<text x="485.24" y="216.6" font-size="11" fill="#111" text-anchor="middle"  >2</text>
<line x1="452.1" y1="24.4" x2="452.1" y2="202.8" stroke="#333" stroke-width="1.6" stroke-dasharray="2.6,7.04" stroke-dashoffset="8.24"/>
<rect x="502.5" y="24.4" width="131.4" height="178.4" fill="none" stroke="#262626" stroke-width="1.3"/>
<line x1="498.9" y1="54.3" x2="502.5" y2="54.3" stroke="#262626" stroke-width="1.2" />
<line x1="498.9" y1="114" x2="502.5" y2="114" stroke="#262626" stroke-width="1.2" />
<line x1="498.9" y1="173.7" x2="502.5" y2="173.7" stroke="#262626" stroke-width="1.2" />
<line x1="500.3" y1="84.15" x2="502.5" y2="84.15" stroke="#262626" stroke-width="1.0" />
<line x1="500.3" y1="143.85" x2="502.5" y2="143.85" stroke="#262626" stroke-width="1.0" />
<line x1="503.3" y1="202.8" x2="503.3" y2="205" stroke="#262626" stroke-width="1.0" />
<line x1="517.8" y1="202.8" x2="517.8" y2="206.4" stroke="#262626" stroke-width="1.2" />
<text x="518.1" y="216.6" font-size="11" fill="#111" text-anchor="middle"  >-6</text>
<line x1="532.3" y1="202.8" x2="532.3" y2="205" stroke="#262626" stroke-width="1.0" />
<line x1="546.8" y1="202.8" x2="546.8" y2="206.4" stroke="#262626" stroke-width="1.2" />
<text x="547.1" y="216.6" font-size="11" fill="#111" text-anchor="middle"  >-4</text>
<line x1="561.3" y1="202.8" x2="561.3" y2="205" stroke="#262626" stroke-width="1.0" />
<line x1="575.8" y1="202.8" x2="575.8" y2="206.4" stroke="#262626" stroke-width="1.2" />
<text x="576.1" y="216.6" font-size="11" fill="#111" text-anchor="middle"  >-2</text>
<line x1="590.3" y1="202.8" x2="590.3" y2="205" stroke="#262626" stroke-width="1.0" />
<line x1="604.8" y1="202.8" x2="604.8" y2="206.4" stroke="#262626" stroke-width="1.2" />
<text x="605.1" y="216.6" font-size="11" fill="#111" text-anchor="middle"  >0</text>
<line x1="619.3" y1="202.8" x2="619.3" y2="205" stroke="#262626" stroke-width="1.0" />
<line x1="633.8" y1="202.8" x2="633.8" y2="206.4" stroke="#262626" stroke-width="1.2" />
<text x="634.1" y="216.6" font-size="11" fill="#111" text-anchor="middle"  >2</text>
<line x1="604.8" y1="24.4" x2="604.8" y2="202.8" stroke="#333" stroke-width="1.6" stroke-dasharray="2.6,7.04" stroke-dashoffset="8.24"/>
<text x="348.8" y="58.2" font-size="11" fill="#111" text-anchor="end"  >1.0</text>
<text x="348.8" y="117.9" font-size="11" fill="#111" text-anchor="end"  >0.8</text>
<text x="348.8" y="177.6" font-size="11" fill="#111" text-anchor="end"  >0.6</text>
<text transform="translate(325,109.2) rotate(-90)" x="0" y="0" font-size="14.3" fill="#111" text-anchor="middle">Integrated PDOS (a.u.)</text>
<text x="464.3" y="233.6" font-size="14.3" fill="#111">E–E<tspan font-size="9" dy="3">F</tspan><tspan dy="-3"> (eV)</tspan></text>
<text x="361.3" y="41.2" font-size="14.2" fill="#1d4f86"><tspan style="font-family:'Liberation Serif'" font-style="italic" font-size="15">c</tspan>-Cu sites</text>
<text x="512" y="41.2" font-size="14.3" fill="#a8141b"><tspan font-style="italic">l</tspan>-Cu sites</text>
<text x="606.2" y="75.2" font-size="10.5" fill="#b1212a" text-anchor="start"  >0.980</text>
<line x1="645.4" y1="30.4" x2="658" y2="30.4" stroke="#b1212a" stroke-width="1.3" />
<text x="662" y="34" font-size="12.5" fill="#111"><tspan font-style="italic">d</tspan><tspan font-size="7.8" dy="2.6" fill="#333">x²-y²</tspan></text>
<line x1="645.4" y1="45.2" x2="658" y2="45.2" stroke="#b8912a" stroke-width="1.3" />
<text x="662" y="48.8" font-size="12.5" fill="#111"><tspan font-style="italic">d</tspan><tspan font-size="7.8" dy="2.6" fill="#333">yz</tspan></text>
<line x1="645.4" y1="58.8" x2="658" y2="58.8" stroke="#fdb25a" stroke-width="1.3" />
<text x="662" y="62.4" font-size="12.5" fill="#111"><tspan font-style="italic">d</tspan><tspan font-size="7.8" dy="2.6" fill="#333">xy</tspan></text>
<line x1="645.4" y1="73.1" x2="658" y2="73.1" stroke="#4a8fd6" stroke-width="1.3" />
<text x="662" y="76.7" font-size="12.5" fill="#111"><tspan font-style="italic">d</tspan><tspan font-size="7.8" dy="2.6" fill="#333">xz</tspan></text>
<line x1="645.4" y1="86" x2="658" y2="86" stroke="#21508c" stroke-width="1.3" />
<text x="662" y="89.6" font-size="12.5" fill="#111"><tspan font-style="italic">d</tspan><tspan font-size="7.8" dy="2.6" fill="#333">z²</tspan></text>
<path d="M87.4,312.7 L87.4,347 L88.8,348.5 L89.5,350.5 L94.8,352.5 L95.2,353.8 L88.8,355.3 L81.5,356.8 L82.8,358.5 L82.5,359.9 L80.5,361.5 L79.4,363 L82.8,364.2 L83.6,365 L78,366.5 L66,368.6 L70,369.5 L77.4,370.5 L77,372 L76.3,374.4 L81.5,376.5 L87.5,378.6 L85,380.5 L84.6,381.7 L84,383.5 L82.5,385.8 L86.7,387.9 L88.5,391 L80,393.5 L77.4,395.2 L80.5,397.3 L84.6,398.3 L87.3,399.3 L92,400.2 L94,401 L89,402 L90.8,404.5 L92.5,406.5 L91.9,408.7 L93,410.5 L95,412.5 L96.5,414.9 L91,416 L87.7,416.4 L78,416.9 L66,417.6 L54.5,418.4 L66,419.2 L78,419.9 L86,420.6 L87.5,421.5 L90.8,422.2 L88,423.5 L87.4,425 L85.5,427.6 L76,428.4 L63,429.6 L48.7,430.9 L63,431.8 L76,432.6 L84,433.4 L87.4,434.2 L87.4,467.6Z" fill="#a00a0a" stroke="#a00a0a" stroke-width="0.5" stroke-linejoin="round"/>
<line x1="87.4" y1="312.7" x2="87.4" y2="467.6" stroke="#a00a0a" stroke-width="1.2" />
<path d="M195.4,312.7 L195.4,330.5 L200,332.3 L209.5,333.9 L200,334.6 L195.4,336 L195.4,350 L194.6,352.6 L190.5,354 L189.4,355.8 L192,357.2 L192.5,358.9 L190.8,361 L190.5,364 L192,366 L192.5,368.2 L189,370.5 L187.4,372.4 L190.5,374 L193.6,376.5 L193,380 L192.8,383 L191.5,386.9 L194.3,389.5 L197,391 L200.5,392.1 L196,393.2 L190.5,395.2 L193.5,397 L193.6,399 L192.5,401.4 L194,403.5 L195.8,406 L200,407.5 L208.3,408.7 L198,409.6 L196.5,411.5 L218,413.4 L235.3,413.9 L210,414.6 L196,416 L190,417 L187.2,417.6 L193,418.6 L198,419.5 L203.2,420.1 L198,421 L195.4,422.5 L195.4,467.6Z" fill="#0e3a68" stroke="#0e3a68" stroke-width="0.5" stroke-linejoin="round"/>
<line x1="195.4" y1="312.7" x2="195.4" y2="467.6" stroke="#0e3a68" stroke-width="1.2" />
<rect x="42.8" y="312.7" width="89.4" height="154.9" fill="none" stroke="#3a3a3a" stroke-width="1.5"/>
<line x1="39.2" y1="467.9" x2="42.8" y2="467.9" stroke="#262626" stroke-width="1.2" />
<line x1="40.6" y1="452.4" x2="42.8" y2="452.4" stroke="#262626" stroke-width="1.0" />
<line x1="39.2" y1="436.9" x2="42.8" y2="436.9" stroke="#262626" stroke-width="1.2" />
<line x1="40.6" y1="421.4" x2="42.8" y2="421.4" stroke="#262626" stroke-width="1.0" />
<line x1="39.2" y1="405.9" x2="42.8" y2="405.9" stroke="#262626" stroke-width="1.2" />
<line x1="40.6" y1="390.4" x2="42.8" y2="390.4" stroke="#262626" stroke-width="1.0" />
<line x1="39.2" y1="374.9" x2="42.8" y2="374.9" stroke="#262626" stroke-width="1.2" />
<line x1="40.6" y1="359.4" x2="42.8" y2="359.4" stroke="#262626" stroke-width="1.0" />
<line x1="39.2" y1="343.9" x2="42.8" y2="343.9" stroke="#262626" stroke-width="1.2" />
<line x1="40.6" y1="328.4" x2="42.8" y2="328.4" stroke="#262626" stroke-width="1.0" />
<line x1="39.2" y1="312.9" x2="42.8" y2="312.9" stroke="#262626" stroke-width="1.2" />
<line x1="50.9" y1="467.6" x2="50.9" y2="471.2" stroke="#262626" stroke-width="1.2" />
<text x="51.2" y="482" font-size="11.5" fill="#111" text-anchor="middle"  >-2.0</text>
<line x1="87.4" y1="467.6" x2="87.4" y2="471.2" stroke="#262626" stroke-width="1.2" />
<text x="89.4" y="482" font-size="11.5" fill="#111" text-anchor="middle"  >0.0</text>
<line x1="123.9" y1="467.6" x2="123.9" y2="471.2" stroke="#262626" stroke-width="1.2" />
<text x="124.2" y="482" font-size="11.5" fill="#111" text-anchor="middle"  >2.0</text>
<line x1="69.15" y1="467.6" x2="69.15" y2="469.8" stroke="#262626" stroke-width="1.0" />
<line x1="105.65" y1="467.6" x2="105.65" y2="469.8" stroke="#262626" stroke-width="1.0" />
<rect x="151.2" y="312.7" width="89.1" height="154.9" fill="none" stroke="#3a3a3a" stroke-width="1.5"/>
<line x1="147.6" y1="467.9" x2="151.2" y2="467.9" stroke="#262626" stroke-width="1.2" />
<line x1="149" y1="452.4" x2="151.2" y2="452.4" stroke="#262626" stroke-width="1.0" />
<line x1="147.6" y1="436.9" x2="151.2" y2="436.9" stroke="#262626" stroke-width="1.2" />
<line x1="149" y1="421.4" x2="151.2" y2="421.4" stroke="#262626" stroke-width="1.0" />
<line x1="147.6" y1="405.9" x2="151.2" y2="405.9" stroke="#262626" stroke-width="1.2" />
<line x1="149" y1="390.4" x2="151.2" y2="390.4" stroke="#262626" stroke-width="1.0" />
<line x1="147.6" y1="374.9" x2="151.2" y2="374.9" stroke="#262626" stroke-width="1.2" />
<line x1="149" y1="359.4" x2="151.2" y2="359.4" stroke="#262626" stroke-width="1.0" />
<line x1="147.6" y1="343.9" x2="151.2" y2="343.9" stroke="#262626" stroke-width="1.2" />
<line x1="149" y1="328.4" x2="151.2" y2="328.4" stroke="#262626" stroke-width="1.0" />
<line x1="147.6" y1="312.9" x2="151.2" y2="312.9" stroke="#262626" stroke-width="1.2" />
<line x1="158.1" y1="467.6" x2="158.1" y2="471.2" stroke="#262626" stroke-width="1.2" />
<text x="156.7" y="482" font-size="11.5" fill="#111" text-anchor="middle"  >-0.1</text>
<line x1="195.4" y1="467.6" x2="195.4" y2="471.2" stroke="#262626" stroke-width="1.2" />
<text x="195.7" y="482" font-size="11.5" fill="#111" text-anchor="middle"  >0.0</text>
<line x1="232.7" y1="467.6" x2="232.7" y2="471.2" stroke="#262626" stroke-width="1.2" />
<text x="233" y="482" font-size="11.5" fill="#111" text-anchor="middle"  >0.1</text>
<line x1="176.75" y1="467.6" x2="176.75" y2="469.8" stroke="#262626" stroke-width="1.0" />
<line x1="214.05" y1="467.6" x2="214.05" y2="469.8" stroke="#262626" stroke-width="1.0" />
<text x="38.3" y="317" font-size="11.5" fill="#111" text-anchor="end"  >2</text>
<text x="38.3" y="348" font-size="11.5" fill="#111" text-anchor="end"  >0</text>
<text x="38.3" y="379" font-size="11.5" fill="#111" text-anchor="end"  >-2</text>
<text x="38.3" y="410" font-size="11.5" fill="#111" text-anchor="end"  >-4</text>
<text x="38.3" y="441" font-size="11.5" fill="#111" text-anchor="end"  >-6</text>
<text x="38.3" y="472" font-size="11.5" fill="#111" text-anchor="end"  >-8</text>
<line x1="43.6" y1="343.9" x2="240.3" y2="343.9" stroke="#1a1a1a" stroke-width="1.4" stroke-dasharray="5.8,6.6"/>
<text x="118" y="340" font-size="13.3" fill="#111">E<tspan font-size="8" dy="2.8">F</tspan></text>
<text x="78.3" y="278.8" font-size="14" fill="#111"><tspan font-style="italic">d</tspan>–<tspan font-style="italic">d</tspan> coupling analysis</text>
<text x="59.8" y="297.4" font-size="14.5" fill="#a8141b"><tspan font-style="italic">l</tspan>-Cu sites</text>
<text x="163.5" y="297.4" font-size="14.1" fill="#1d4f86"><tspan style="font-family:'Liberation Serif'" font-style="italic" font-size="16">c</tspan>-Cu sites</text>
<text x="44.3" y="310.4" font-size="9.6" fill="#8a8a8a" font-style="italic" textLength="45.5" lengthAdjust="spacingAndGlyphs">Antibonding</text>
<text x="95.4" y="310.4" font-size="9.6" fill="#8a8a8a" font-style="italic" textLength="31" lengthAdjust="spacingAndGlyphs">Bonding</text>
<text x="151" y="310.4" font-size="9.6" fill="#8a8a8a" font-style="italic" textLength="45.5" lengthAdjust="spacingAndGlyphs">Antibonding</text>
<text x="204" y="310.4" font-size="9.6" fill="#8a8a8a" font-style="italic" textLength="31" lengthAdjust="spacingAndGlyphs">Bonding</text>
<text x="108.4" y="449.6" font-size="11" fill="#a00a0a" text-anchor="middle" textLength="35.5" lengthAdjust="spacingAndGlyphs">–ICOHP</text>
<text x="108.4" y="460.8" font-size="11" fill="#a00a0a" text-anchor="middle" textLength="24.2" lengthAdjust="spacingAndGlyphs">2.422</text>
<text x="216.5" y="449.6" font-size="11" fill="#2a78b8" text-anchor="middle" textLength="35.5" lengthAdjust="spacingAndGlyphs">–ICOHP</text>
<text x="216.5" y="460.8" font-size="11" fill="#2a78b8" text-anchor="middle" textLength="24.5" lengthAdjust="spacingAndGlyphs">0.002</text>
<text x="97.1" y="497.2" font-size="14.3" fill="#111">–pCOHP (a.u.)</text>
<text transform="translate(18.1,382.2) rotate(-90)" x="0" y="0" font-size="14.5" fill="#111" text-anchor="middle">E–E<tspan font-size="9" dy="3">F</tspan><tspan dy="-3"> (eV)</tspan></text>
<rect x="327.8" y="304.2" width="173.2" height="163.8" fill="#fff8ef"/>
<rect x="346.8" y="366.45" width="21.2" height="101.55" fill="#a00006"/>
<rect x="387.2" y="348.25" width="21.7" height="119.75" fill="#cd7977"/>
<rect x="599" y="451.8" width="20.1" height="16.2" fill="#053264"/>
<rect x="642" y="322.4" width="20.6" height="145.6" fill="#809db8"/>
<line x1="327.3" y1="304.5" x2="327.3" y2="468.6" stroke="#333" stroke-width="1.3" />
<line x1="326.7" y1="468" x2="499.8" y2="468" stroke="#333" stroke-width="1.3" />
<line x1="505.4" y1="468" x2="682" y2="468" stroke="#333" stroke-width="1.3" />
<line x1="494.5" y1="476.7" x2="504.6" y2="459.8" stroke="#222" stroke-width="1.2" />
<line x1="499.2" y1="477.6" x2="509.3" y2="460.7" stroke="#222" stroke-width="1.2" />
<line x1="324" y1="468" x2="327.3" y2="468" stroke="#333" stroke-width="1.2" />
<text x="322.3" y="471.9" font-size="11" fill="#111" text-anchor="end"  >0</text>
<line x1="324" y1="429.68" x2="327.3" y2="429.68" stroke="#333" stroke-width="1.2" />
<text x="322.3" y="433.58" font-size="11" fill="#111" text-anchor="end"  >100</text>
<line x1="324" y1="391.36" x2="327.3" y2="391.36" stroke="#333" stroke-width="1.2" />
<text x="322.3" y="395.26" font-size="11" fill="#111" text-anchor="end"  >200</text>
<line x1="324" y1="353.04" x2="327.3" y2="353.04" stroke="#333" stroke-width="1.2" />
<text x="322.3" y="356.94" font-size="11" fill="#111" text-anchor="end"  >300</text>
<line x1="324" y1="314.72" x2="327.3" y2="314.72" stroke="#333" stroke-width="1.2" />
<text x="322.3" y="318.62" font-size="11" fill="#111" text-anchor="end"  >400</text>
<line x1="325.6" y1="448.84" x2="327.3" y2="448.84" stroke="#333" stroke-width="1.0" />
<line x1="325.6" y1="410.52" x2="327.3" y2="410.52" stroke="#333" stroke-width="1.0" />
<line x1="325.6" y1="372.2" x2="327.3" y2="372.2" stroke="#333" stroke-width="1.0" />
<line x1="325.6" y1="333.88" x2="327.3" y2="333.88" stroke="#333" stroke-width="1.0" />
<text x="357.9" y="482.2" font-size="12.5" fill="#111" text-anchor="middle"  >Cu–O</text>
<text x="399.5" y="482.2" font-size="12.5" fill="#111" text-anchor="middle"  >C–O</text>
<text x="608.4" y="482.2" font-size="12.5" fill="#111" text-anchor="middle"  >Cu–O</text>
<text x="653.3" y="482.2" font-size="12.5" fill="#111" text-anchor="middle"  >C–O</text>
<text x="376" y="288.2" font-size="14.1" fill="#a8141b"><tspan font-style="italic">l</tspan>-Cu sites</text>
<text x="568.5" y="288.2" font-size="13.8" fill="#1d4f86"><tspan style="font-family:'Liberation Serif'" font-style="italic" font-size="15.5">c</tspan>-Cu sites</text>
<text transform="translate(295.8,371.2) rotate(-90)" x="0" y="0" font-size="14.1" fill="#111" text-anchor="middle">BDE (kJ mol<tspan font-size="9" dy="-6">−1</tspan><tspan dy="6">)</tspan></text>
<circle cx="308.2" cy="498.2" r="6.1" fill="url(#gCu)" stroke="none" stroke-width="0.5"/>
<text x="318.2" y="503.5" font-size="14.2" fill="#111" text-anchor="start"  >Cu</text>
<circle cx="353.7" cy="498.6" r="5.6" fill="url(#gTi)" stroke="none" stroke-width="0.5"/>
<text x="362.6" y="503.5" font-size="14.2" fill="#111" text-anchor="start"  >Ti</text>
<circle cx="391.4" cy="498.4" r="3.8" fill="url(#gO)" stroke="none" stroke-width="0.5"/>
<text x="398.3" y="503.5" font-size="14.2" fill="#111" text-anchor="start"  >(Pseudo)Lattice O</text>
<circle cx="529.9" cy="497.5" r="3.9" fill="url(#gR)" stroke="none" stroke-width="0.5"/>
<text x="537.5" y="503.5" font-size="14.2" fill="#111" text-anchor="start"  >Adsorbed O</text>
<circle cx="629.5" cy="497" r="3.9" fill="url(#gC)" stroke="none" stroke-width="0.5"/>
<text x="635.8" y="503.5" font-size="14.2" fill="#111" text-anchor="start"  >C</text>
<circle cx="658.6" cy="496.8" r="2.7" fill="url(#gH)" stroke="#888" stroke-width="0.5"/>
<text x="666.3" y="503.5" font-size="14.2" fill="#111" text-anchor="start"  >H</text>
<g clip-path="url(#clipS1)">
<line x1="464.8" y1="308.9" x2="464.2" y2="315.35" stroke="#84c3e6" stroke-width="2.2" />
<line x1="464.2" y1="315.35" x2="463.6" y2="321.8" stroke="#e49a9a" stroke-width="2.2" />
<line x1="463.6" y1="321.8" x2="471.95" y2="321.8" stroke="#e49a9a" stroke-width="2.2" />
<line x1="471.95" y1="321.8" x2="480.3" y2="321.8" stroke="#84c3e6" stroke-width="2.2" />
<line x1="463.6" y1="321.8" x2="466" y2="329.15" stroke="#e49a9a" stroke-width="2.2" />
<line x1="466" y1="329.15" x2="468.4" y2="336.5" stroke="#84c3e6" stroke-width="2.2" />
<line x1="476.9" y1="331.8" x2="478.6" y2="326.8" stroke="#e49a9a" stroke-width="2.2" />
<line x1="478.6" y1="326.8" x2="480.3" y2="321.8" stroke="#84c3e6" stroke-width="2.2" />
<line x1="476.9" y1="331.8" x2="475.25" y2="339.35" stroke="#e49a9a" stroke-width="2.2" />
<line x1="475.25" y1="339.35" x2="473.6" y2="346.9" stroke="#84c3e6" stroke-width="2.2" />
<line x1="468.4" y1="336.5" x2="467.45" y2="343.4" stroke="#84c3e6" stroke-width="2.2" />
<line x1="467.45" y1="343.4" x2="466.5" y2="350.3" stroke="#e49a9a" stroke-width="2.2" />
<line x1="455.6" y1="345.5" x2="464.6" y2="346.2" stroke="#e49a9a" stroke-width="2.2" />
<line x1="464.6" y1="346.2" x2="473.6" y2="346.9" stroke="#84c3e6" stroke-width="2.2" />
<line x1="455.6" y1="345.5" x2="452.05" y2="351" stroke="#e49a9a" stroke-width="2.2" />
<line x1="452.05" y1="351" x2="448.5" y2="356.5" stroke="#84c3e6" stroke-width="2.2" />
<line x1="433.8" y1="346" x2="430.7" y2="350.4" stroke="#84c3e6" stroke-width="2.2" />
<line x1="430.7" y1="350.4" x2="427.6" y2="354.8" stroke="#e49a9a" stroke-width="2.2" />
<line x1="473.6" y1="346.9" x2="476.2" y2="351.2" stroke="#84c3e6" stroke-width="2.2" />
<line x1="476.2" y1="351.2" x2="478.8" y2="355.5" stroke="#e49a9a" stroke-width="2.2" />
<line x1="473.6" y1="346.9" x2="477.8" y2="347.45" stroke="#84c3e6" stroke-width="2.2" />
<line x1="477.8" y1="347.45" x2="482" y2="348" stroke="#84c3e6" stroke-width="2.2" />
<line x1="466.5" y1="350.3" x2="464.1" y2="353.4" stroke="#e49a9a" stroke-width="2.2" />
<line x1="464.1" y1="353.4" x2="461.7" y2="356.5" stroke="#84c3e6" stroke-width="2.2" />
<circle cx="468.4" cy="336.5" r="4.3" fill="url(#gTi)" stroke="none" stroke-width="0.5"/>
<circle cx="466.5" cy="350.3" r="3" fill="url(#gO)" stroke="none" stroke-width="0.5"/>
<circle cx="480.3" cy="321.8" r="3.4" fill="url(#gTi)" stroke="none" stroke-width="0.5"/>
<line x1="463.6" y1="321.8" x2="460.3" y2="328.45" stroke="#e49a9a" stroke-width="2.3" />
<line x1="460.3" y1="328.45" x2="457" y2="335.1" stroke="#7d5fd8" stroke-width="2.3" />
<line x1="457" y1="335.1" x2="466.95" y2="333.45" stroke="#7d5fd8" stroke-width="2.3" />
<line x1="466.95" y1="333.45" x2="476.9" y2="331.8" stroke="#e49a9a" stroke-width="2.3" />
<line x1="457" y1="335.1" x2="445.4" y2="340.55" stroke="#7d5fd8" stroke-width="2.3" />
<line x1="445.4" y1="340.55" x2="433.8" y2="346" stroke="#84c3e6" stroke-width="2.3" />
<line x1="457" y1="335.1" x2="456.3" y2="340.3" stroke="#7d5fd8" stroke-width="2.3" />
<line x1="456.3" y1="340.3" x2="455.6" y2="345.5" stroke="#e49a9a" stroke-width="2.3" />
<circle cx="463.6" cy="321.8" r="2.9" fill="url(#gO)" stroke="none" stroke-width="0.5"/>
<circle cx="464.8" cy="308.9" r="3.6" fill="url(#gTi)" stroke="none" stroke-width="0.5"/>
<circle cx="476.9" cy="331.8" r="3.3" fill="url(#gO)" stroke="none" stroke-width="0.5"/>
<circle cx="482" cy="348" r="4" fill="url(#gTi)" stroke="none" stroke-width="0.5"/>
<circle cx="457" cy="335.1" r="4.75" fill="url(#gCu)" stroke="none" stroke-width="0.5"/>
<circle cx="455.6" cy="345.5" r="3.3" fill="url(#gO)" stroke="none" stroke-width="0.5"/>
<circle cx="427.6" cy="354.8" r="3.3" fill="url(#gO)" stroke="none" stroke-width="0.5"/>
<circle cx="448.5" cy="356.5" r="4.5" fill="url(#gTi)" stroke="none" stroke-width="0.5"/>
<circle cx="461.7" cy="356.5" r="4" fill="url(#gTi)" stroke="none" stroke-width="0.5"/>
<circle cx="478.8" cy="355.5" r="3" fill="url(#gO)" stroke="none" stroke-width="0.5"/>
<circle cx="433.8" cy="346" r="4.75" fill="url(#gTi)" stroke="none" stroke-width="0.5"/>
<circle cx="473.6" cy="346.9" r="4.75" fill="url(#gTi)" stroke="none" stroke-width="0.5"/>
</g>
<line x1="432.3" y1="321.8" x2="438.5" y2="334.1" stroke="#aaa" stroke-width="1.5" />
<line x1="432.3" y1="321.8" x2="422.8" y2="323.2" stroke="#d8d8d8" stroke-width="1.5" />
<line x1="432.3" y1="321.8" x2="436.6" y2="317.4" stroke="#d8d8d8" stroke-width="1.5" />
<line x1="432.3" y1="321.8" x2="438.6" y2="321" stroke="#d8d8d8" stroke-width="1.5" />
<circle cx="422.8" cy="323.2" r="1.9" fill="url(#gH)" stroke="#999" stroke-width="0.5"/>
<circle cx="436.6" cy="317.4" r="1.9" fill="url(#gH)" stroke="#999" stroke-width="0.5"/>
<circle cx="438.6" cy="321" r="1.7" fill="url(#gH)" stroke="#999" stroke-width="0.5"/>
<circle cx="432.3" cy="321.8" r="2.5" fill="url(#gC)" stroke="none" stroke-width="0.5"/>
<circle cx="438.5" cy="334.1" r="2.7" fill="url(#gO)" stroke="none" stroke-width="0.5"/>
<line x1="435.2" y1="336.3" x2="439" y2="337.8" stroke="#000" stroke-width="1.6" />
<line x1="441.3" y1="332.7" x2="441.8" y2="336" stroke="#000" stroke-width="1.6" />
<line x1="447.5" y1="333.2" x2="447.5" y2="336.5" stroke="#000" stroke-width="1.6" />
<line x1="453.3" y1="334.1" x2="452.8" y2="337.9" stroke="#000" stroke-width="1.6" />
<line x1="433.3" y1="342.2" x2="436.6" y2="343.6" stroke="#000" stroke-width="1.6" />
<line x1="420" y1="332.2" x2="448.5" y2="322.3" stroke="#c81616" stroke-width="1.4" stroke-dasharray="3.2,1.9"/>
<g stroke="#d01515" fill="none" stroke-width="1.7"><circle cx="407.4" cy="326.3" r="2.5"/><circle cx="405.8" cy="333.8" r="2.5"/></g>
<path d="M409.8,327.6 L418,328.4 L427,330.6 L418,331.6 L410.5,330.8 Z M409.2,331.4 L417,332.4 L425.2,336.6 L416.5,335.4 L408.8,334 Z" fill="#d01515" stroke="#d01515" stroke-width="0.6" stroke-linejoin="round"/>
<text x="440.6" y="316.6" font-size="13" fill="#a8101a" font-style="italic" stroke="#a8101a" stroke-width="0.25">fast</text>
<g clip-path="url(#clipS2)">
<line x1="581.9" y1="334.8" x2="590.6" y2="337.6" stroke="#e49a9a" stroke-width="2.2" />
<line x1="590.6" y1="337.6" x2="599.3" y2="340.4" stroke="#84c3e6" stroke-width="2.2" />
<line x1="589.1" y1="342.4" x2="594.2" y2="341.4" stroke="#e49a9a" stroke-width="2.2" />
<line x1="594.2" y1="341.4" x2="599.3" y2="340.4" stroke="#84c3e6" stroke-width="2.2" />
<line x1="557.4" y1="340.9" x2="557.65" y2="347.55" stroke="#e49a9a" stroke-width="2.2" />
<line x1="557.65" y1="347.55" x2="557.9" y2="354.2" stroke="#84c3e6" stroke-width="2.2" />
<line x1="568.7" y1="346.5" x2="577.35" y2="349.3" stroke="#e49a9a" stroke-width="2.2" />
<line x1="577.35" y1="349.3" x2="586" y2="352.1" stroke="#84c3e6" stroke-width="2.2" />
<line x1="568.7" y1="346.5" x2="563.3" y2="350.35" stroke="#e49a9a" stroke-width="2.2" />
<line x1="563.3" y1="350.35" x2="557.9" y2="354.2" stroke="#84c3e6" stroke-width="2.2" />
<line x1="599.3" y1="340.4" x2="600.35" y2="346.25" stroke="#84c3e6" stroke-width="2.2" />
<line x1="600.35" y1="346.25" x2="601.4" y2="352.1" stroke="#e49a9a" stroke-width="2.2" />
<line x1="586" y1="352.1" x2="593.7" y2="352.1" stroke="#84c3e6" stroke-width="2.2" />
<line x1="593.7" y1="352.1" x2="601.4" y2="352.1" stroke="#e49a9a" stroke-width="2.2" />
<line x1="543.6" y1="352.1" x2="546.95" y2="354.3" stroke="#e49a9a" stroke-width="2.2" />
<line x1="546.95" y1="354.3" x2="550.3" y2="356.5" stroke="#84c3e6" stroke-width="2.2" />
<line x1="582.5" y1="346.5" x2="584.25" y2="349.3" stroke="#e49a9a" stroke-width="2.2" />
<line x1="584.25" y1="349.3" x2="586" y2="352.1" stroke="#84c3e6" stroke-width="2.2" />
<circle cx="584" cy="331.2" r="4.6" fill="url(#gTi)" stroke="none" stroke-width="0.5"/>
<circle cx="582.5" cy="346.5" r="3" fill="url(#gO)" stroke="none" stroke-width="0.5"/>
<line x1="557.4" y1="340.9" x2="565.6" y2="341.4" stroke="#e49a9a" stroke-width="2.3" />
<line x1="565.6" y1="341.4" x2="573.8" y2="341.9" stroke="#7d5fd8" stroke-width="2.3" />
<line x1="573.8" y1="341.9" x2="581.45" y2="342.15" stroke="#7d5fd8" stroke-width="2.3" />
<line x1="581.45" y1="342.15" x2="589.1" y2="342.4" stroke="#e49a9a" stroke-width="2.3" />
<line x1="573.8" y1="341.9" x2="577.85" y2="338.35" stroke="#7d5fd8" stroke-width="2.3" />
<line x1="577.85" y1="338.35" x2="581.9" y2="334.8" stroke="#e49a9a" stroke-width="2.3" />
<circle cx="581.9" cy="334.8" r="3.3" fill="url(#gO)" stroke="none" stroke-width="0.5"/>
<circle cx="599.3" cy="340.4" r="4.6" fill="url(#gTi)" stroke="none" stroke-width="0.5"/>
<circle cx="557.4" cy="340.9" r="3.3" fill="url(#gO)" stroke="none" stroke-width="0.5"/>
<circle cx="573.8" cy="341.9" r="4.6" fill="url(#gCu)" stroke="none" stroke-width="0.5"/>
<circle cx="589.1" cy="342.4" r="3.3" fill="url(#gO)" stroke="none" stroke-width="0.5"/>
<circle cx="568.7" cy="346.5" r="3.1" fill="url(#gO)" stroke="none" stroke-width="0.5"/>
<circle cx="550.3" cy="356.5" r="4" fill="url(#gTi)" stroke="none" stroke-width="0.5"/>
<circle cx="543.6" cy="352.1" r="3.1" fill="url(#gO)" stroke="none" stroke-width="0.5"/>
<circle cx="586" cy="352.1" r="4.9" fill="url(#gTi)" stroke="none" stroke-width="0.5"/>
<circle cx="557.9" cy="354.2" r="4.9" fill="url(#gTi)" stroke="none" stroke-width="0.5"/>
<circle cx="601.4" cy="352.1" r="3.1" fill="url(#gO)" stroke="none" stroke-width="0.5"/>
</g>
<rect x="570.7" y="324.4" width="4" height="1.5" fill="#000"/>
<rect x="570.7" y="330.5" width="4" height="1.5" fill="#000"/>
<rect x="570.7" y="336.6" width="4" height="1.5" fill="#000"/>
<line x1="561.4" y1="313.8" x2="585.5" y2="313.8" stroke="#1f4e8c" stroke-width="1.5" stroke-dasharray="1.6,2.2"/>
<line x1="572.2" y1="308.8" x2="572.2" y2="319.5" stroke="#999" stroke-width="1.6" />
<line x1="572.2" y1="308.8" x2="565.8" y2="303.1" stroke="#d8d8d8" stroke-width="1.5" />
<line x1="572.2" y1="308.8" x2="581.7" y2="304.3" stroke="#d8d8d8" stroke-width="1.5" />
<line x1="572.2" y1="308.8" x2="568.4" y2="306.5" stroke="#d8d8d8" stroke-width="1.5" />
<circle cx="565.8" cy="303.1" r="2" fill="url(#gH)" stroke="#999" stroke-width="0.5"/>
<circle cx="581.7" cy="304.3" r="2" fill="url(#gH)" stroke="#999" stroke-width="0.5"/>
<circle cx="568.6" cy="306.2" r="1.6" fill="url(#gH)" stroke="#999" stroke-width="0.5"/>
<circle cx="572.2" cy="308.8" r="2.5" fill="url(#gC)" stroke="none" stroke-width="0.5"/>
<circle cx="572.2" cy="319.5" r="3.3" fill="url(#gR)" stroke="none" stroke-width="0.5"/>
<text x="586.6" y="317.8" font-size="13" fill="#1d4f86" font-style="italic">sluggish</text>
</svg></body></html>
